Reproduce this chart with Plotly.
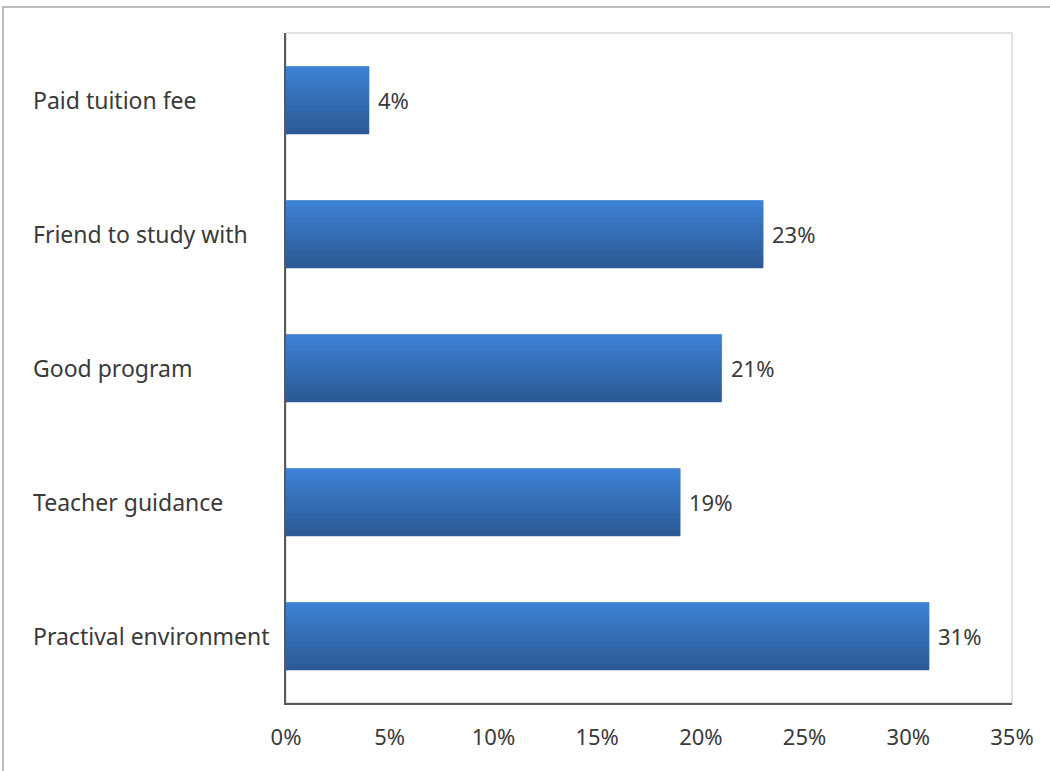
import plotly.graph_objects as go

# Survey reasons and their shares (percent)
categories = ["Paid tuition fee", "Friend to study with", "Good program",
              "Teacher guidance", "Practival environment"]
shares = [4, 23, 21, 19, 31]
x_ticks = [0, 5, 10, 15, 20, 25, 30, 35]
x_tick_labels = ["0%", "5%", "10%", "15%", "20%", "25%", "30%", "35%"]

W, H = 1050, 771
L, R, T, B = 286, 38, 33, 68
plot_w = W - L - R
plot_h = H - T - B

FONT = "Noto Sans"
FONT_SIZE = 22
TEXT_COLOR = "#3a3a3a"

fig = go.Figure()

# Base bar with light outline
bar_width = 0.5
fig.add_trace(go.Bar(
    x=shares, y=categories, orientation="h", width=bar_width,
    marker=dict(color="rgb(52,108,180)", line=dict(color="rgb(120,165,220)", width=1)),
    hoverinfo="skip", showlegend=False,
))

# Vertical gradient across bar thickness, built from thin bands
top_c = (61, 129, 212)
bot_c = (44, 90, 150)
n_bands = 12
band_w = bar_width / n_bands
for i in range(n_bands):
    t = i / (n_bands - 1)
    c = tuple(round(top_c[k] + (bot_c[k] - top_c[k]) * t) for k in range(3))
    fig.add_trace(go.Bar(
        x=shares, y=categories, orientation="h",
        width=band_w * 1.15, offset=-bar_width / 2 + i * band_w,
        marker=dict(color="rgb(%d,%d,%d)" % c, line=dict(width=0)),
        hoverinfo="skip", showlegend=False,
    ))

annotations = []
# Value labels to the right of each bar
for cat, v in zip(categories, shares):
    annotations.append(dict(
        x=v, y=cat, xref="x", yref="y", text=f"{v}%", showarrow=False,
        xanchor="left", xshift=7,
        font=dict(family=FONT, size=FONT_SIZE, color=TEXT_COLOR),
    ))
# Left-aligned category labels
for cat in categories:
    annotations.append(dict(
        x=(31 - L) / plot_w, y=cat, xref="paper", yref="y", text=cat,
        showarrow=False, xanchor="left",
        font=dict(family=FONT, size=23, color=TEXT_COLOR),
    ))

shapes = [
    # outer chart frame
    dict(type="rect", xref="paper", yref="paper",
         x0=(3 - L) / plot_w, x1=(W + 5 - L) / plot_w,
         y0=(plot_h + T - (H + 5)) / plot_h, y1=(plot_h + T - 7) / plot_h,
         line=dict(color="#a6a6a6", width=1.5), layer="below"),
    # plot area frame
    dict(type="rect", xref="paper", yref="paper", x0=0, x1=1, y0=0, y1=1,
         line=dict(color="#c8c8c8", width=1), layer="below"),
]

fig.update_layout(
    width=W, height=H,
    margin=dict(l=L, r=R, t=T, b=B, pad=0),
    paper_bgcolor="white", plot_bgcolor="white",
    barmode="overlay", bargap=0.5,
    annotations=annotations, shapes=shapes,
    xaxis=dict(
        range=[0, 35], tickvals=x_ticks, ticktext=x_tick_labels,
        showgrid=False, zeroline=False,
        showline=True, linecolor="#595959", linewidth=2,
        ticks="", ticklabelstandoff=14,
        tickfont=dict(family=FONT, size=FONT_SIZE, color=TEXT_COLOR),
        fixedrange=True,
    ),
    yaxis=dict(
        categoryorder="array", categoryarray=categories, autorange="reversed",
        showticklabels=False, showgrid=False, zeroline=False,
        showline=True, linecolor="#595959", linewidth=2, ticks="",
        fixedrange=True,
    ),
)

fig.write_html("out.html")
